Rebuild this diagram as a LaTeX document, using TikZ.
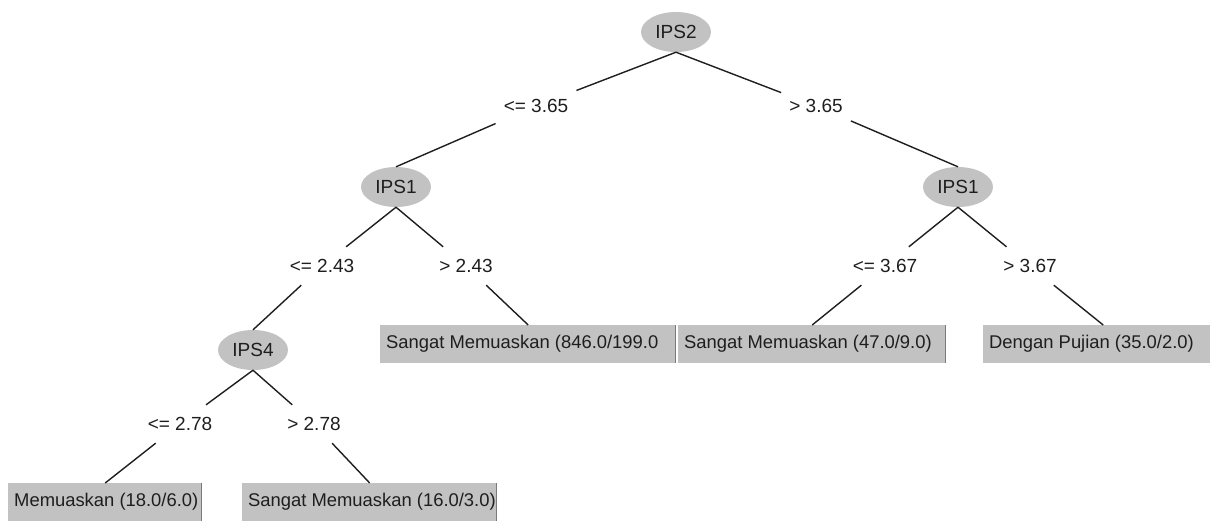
\documentclass[tikz,border=0pt]{standalone}
\usepackage{fontspec}
\setmainfont{Liberation Sans}
\usetikzlibrary{shapes.geometric}
\definecolor{nodegray}{HTML}{C2C2C2}
\definecolor{shadegray}{HTML}{7A7A7A}
\definecolor{ink}{HTML}{1E1E1E}
\newcommand\treefont{\fontsize{19}{22}\selectfont}
\newcommand\leaffont{\fontsize{18.4}{22}\selectfont}
\newcommand\lefttext[2]{\makebox[#1][l]{#2}}
\begin{document}
\begin{tikzpicture}[x=1pt,y=-1pt,
  inner/.style={ellipse, fill=nodegray, minimum width=70pt, minimum height=40pt, inner sep=0pt, text=ink, font=\treefont},
  leaf/.style={rectangle, fill=nodegray, minimum height=38pt, inner xsep=6pt, inner ysep=0pt, anchor=north west, text=ink, font=\leaffont},
  lab/.style={rectangle, inner xsep=8pt, inner ysep=0pt, minimum height=38pt, text=ink, font=\treefont},
  edge/.style={draw=ink, line width=1.4pt},
  rim/.style={draw=shadegray, line width=1.5pt}]
\useasboundingbox (0,0) rectangle (1210,520);
\clip (0,0) rectangle (1210,520);

% inner nodes
\node[inner] (ips2) at (676,32) {IPS2};
\node[inner] (ips1a) at (396,187) {IPS1};
\node[inner] (ips1b) at (958,187) {IPS1};
\node[inner] (ips4) at (253,350) {IPS4};

% leaves
\node[leaf] (l1) at (380,325) {\lefttext{284pt}{Sangat Memuaskan (846.0/199.0}};
\node[leaf] (l2) at (678,325) {\lefttext{256pt}{Sangat Memuaskan (47.0/9.0)}};
\node[leaf] (l3) at (983,325) {\lefttext{228pt}{Dengan Pujian (35.0/2.0)}};
\node[leaf] (l4) at (8,483) {\lefttext{182pt}{Memuaskan (18.0/6.0)}};
\node[leaf] (l5) at (242,483) {\lefttext{243pt}{Sangat Memuaskan (16.0/3.0)}};
\foreach \l in {l1,l2,l3,l4,l5}
  \draw[rim] ([xshift=-0.75pt]\l.north east) -- ([xshift=-0.75pt]\l.south east);

% edge labels
\node[lab] (a1) at (536,106) {<= 3.65};
\node[lab] (a2) at (816,106) {> 3.65};
\node[lab] (b1) at (322,266) {<= 2.43};
\node[lab] (b2) at (466,266) {> 2.43};
\node[lab] (c1) at (885,266) {<= 3.67};
\node[lab] (c2) at (1030,266) {> 3.67};
\node[lab] (d1) at (180,424) {<= 2.78};
\node[lab] (d2) at (314,424) {> 2.78};

% connectors
\draw[edge] (ips2.south) -- (a1) -- (ips1a.north);
\draw[edge] (ips2.south) -- (a2) -- (ips1b.north);
\draw[edge] (ips1a.south) -- (b1) -- (ips4.north);
\draw[edge] (ips1a.south) -- (b2) -- (l1.north);
\draw[edge] (ips1b.south) -- (c1) -- (l2.north);
\draw[edge] (ips1b.south) -- (c2) -- (l3.north);
\draw[edge] (ips4.south) -- (d1) -- (l4.north);
\draw[edge] (ips4.south) -- (d2) -- (l5.north);
\end{tikzpicture}
\end{document}
